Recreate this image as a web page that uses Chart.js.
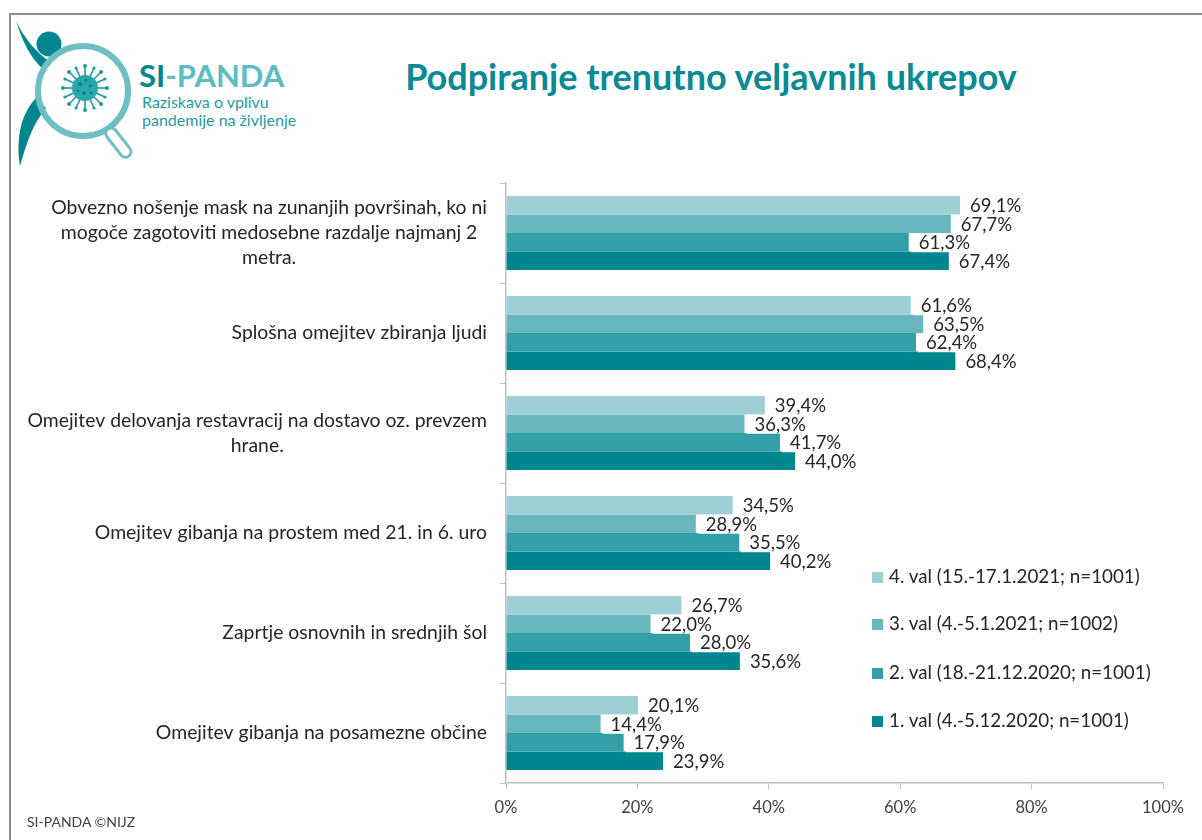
<!DOCTYPE html>
<html>
<head>
<meta charset="utf-8">
<script src="https://cdn.jsdelivr.net/npm/chart.js@4/dist/chart.umd.min.js"></script>
<style>
  body { margin: 0; background: #fff; font-family: Lato, sans-serif; }
  #wrap { position: relative; width: 1202px; height: 840px; overflow: hidden; }
  #frame { position: absolute; left: 9px; top: 13px; width: 1300px; height: 900px;
           border-left: 2px solid #8c8c8c; border-top: 2px solid #8c8c8c; }
  #myChart { position: absolute; left: 0; top: 0; }
  #title { position: absolute; left: 0; width: 1422px; top: 54px; text-align: center;
           font: bold 36px Lato, sans-serif; color: #0a8a94; }
  #logoText1 { position: absolute; left: 139px; top: 56px; font: bold 31px Lato, sans-serif; }
  #logoText2 { position: absolute; left: 142px; top: 93px; font: 16px Lato, sans-serif;
               color: #1f9ba2; line-height: 18px; }
  #footer { position: absolute; left: 27px; top: 813px; font: 14px Lato, sans-serif; color: #404040; }
  .leg { position: absolute; left: 872px; font: 18.8px Lato, sans-serif; color: #262626; white-space: nowrap; }
  .leg span { display: inline-block; width: 11px; height: 11px; margin-right: 6px; vertical-align: 0px; }
</style>
</head>
<body>
<div id="wrap">
  <div id="frame"></div>
  <svg width="300" height="180" style="position:absolute;left:0;top:0">
    <!-- arm -->
    <path d="M16 21 C 22 40, 30 58, 44 70 L 50 62 C 36 52, 24 38, 16 21 Z" fill="#00868f"/>
    <circle cx="49" cy="44" r="12.5" fill="#00868f"/>
    <!-- leg -->
    <path d="M36 98 C 20 115, 16 140, 20 166 C 26 145, 32 125, 46 108 Z" fill="#00868f"/>
    <!-- magnifier -->
    <circle cx="83" cy="91" r="45" fill="none" stroke="#6dbfc3" stroke-width="6"/>
    <rect x="113" y="126" width="11" height="34" rx="5.5" transform="rotate(-38 118 143)"
          fill="#fff" stroke="#6dbfc3" stroke-width="3"/>
    <!-- virus -->
    <g stroke="#1f9ba2" stroke-width="1.6">
      <line x1="85" y1="88" x2="85" y2="66"/><line x1="85" y1="88" x2="85" y2="110"/>
      <line x1="85" y1="88" x2="63" y2="88"/><line x1="85" y1="88" x2="107" y2="88"/>
      <line x1="85" y1="88" x2="69" y2="72"/><line x1="85" y1="88" x2="101" y2="104"/>
      <line x1="85" y1="88" x2="101" y2="72"/><line x1="85" y1="88" x2="69" y2="104"/>
      <line x1="85" y1="88" x2="76" y2="68"/><line x1="85" y1="88" x2="94" y2="108"/>
      <line x1="85" y1="88" x2="94" y2="68"/><line x1="85" y1="88" x2="76" y2="108"/>
      <line x1="85" y1="88" x2="65" y2="79"/><line x1="85" y1="88" x2="105" y2="97"/>
      <line x1="85" y1="88" x2="65" y2="97"/><line x1="85" y1="88" x2="105" y2="79"/>
    </g>
    <g fill="#1f9ba2">
      <circle cx="85" cy="66" r="2"/><circle cx="85" cy="110" r="2"/>
      <circle cx="63" cy="88" r="2"/><circle cx="107" cy="88" r="2"/>
      <circle cx="69" cy="72" r="2"/><circle cx="101" cy="104" r="2"/>
      <circle cx="101" cy="72" r="2"/><circle cx="69" cy="104" r="2"/>
      <circle cx="76" cy="68" r="1.6"/><circle cx="94" cy="108" r="1.6"/>
      <circle cx="94" cy="68" r="1.6"/><circle cx="76" cy="108" r="1.6"/>
      <circle cx="65" cy="79" r="1.6"/><circle cx="105" cy="97" r="1.6"/>
      <circle cx="65" cy="97" r="1.6"/><circle cx="105" cy="79" r="1.6"/>
    </g>
    <circle cx="85" cy="88" r="13" fill="#2aa6ac"/>
    <g fill="#0d7f88">
      <circle cx="80" cy="84" r="2"/><circle cx="90" cy="86" r="1.6"/><circle cx="84" cy="93" r="1.8"/>
      <circle cx="91" cy="93" r="1.3"/><circle cx="78" cy="91" r="1.3"/><circle cx="86" cy="80" r="1.3"/>
    </g>
  </svg>
  <div id="logoText1"><span style="color:#00868f">SI</span><span style="color:#5cbdc2">-PANDA</span></div>
  <div id="logoText2">Raziskava o vplivu<br>pandemije na življenje</div>
  <div id="title">Podpiranje trenutno veljavnih ukrepov</div>
  <canvas id="myChart" width="1202" height="840"></canvas>
  <div id="legend"></div>
  <div id="footer">SI-PANDA ©NIJZ</div>
</div>
<script>
const categories = [
  ["Obvezno nošenje mask na zunanjih površinah, ko ni", "mogoče zagotoviti medosebne razdalje najmanj 2", "metra."],
  ["Splošna omejitev zbiranja ljudi"],
  ["Omejitev delovanja restavracij na dostavo oz. prevzem", "hrane."],
  ["Omejitev gibanja na prostem med 21. in 6. uro"],
  ["Zaprtje osnovnih in srednjih šol"],
  ["Omejitev gibanja na posamezne občine"],
];
const seriesLabels = [
  "4. val (15.-17.1.2021; n=1001)",
  "3. val (4.-5.1.2021; n=1002)",
  "2. val (18.-21.12.2020; n=1001)",
  "1. val (4.-5.12.2020; n=1001)",
];
const wave4 = [69.1, 61.6, 39.4, 34.5, 26.7, 20.1];
const wave3 = [67.7, 63.5, 36.3, 28.9, 22.0, 14.4];
const wave2 = [61.3, 62.4, 41.7, 35.5, 28.0, 17.9];
const wave1 = [67.4, 68.4, 44.0, 40.2, 35.6, 23.9];
const xTicks = [0, 20, 40, 60, 80, 100];

const colors = ["#9dd0d5", "#68b7bf", "#339fa9", "#00868f"];
const seriesValues = [wave4, wave3, wave2, wave1];

// legend
const legendTops = [564, 611, 660, 708];
const legendDiv = document.getElementById("legend");
seriesLabels.forEach(function (lbl, i) {
  const d = document.createElement("div");
  d.className = "leg";
  d.style.top = legendTops[i] + "px";
  d.innerHTML = '<span style="background:' + colors[i] + '"></span>' + lbl;
  legendDiv.appendChild(d);
});

const fmt = (v) => v.toFixed(1).replace(".", ",") + "%";

const ctx = document.getElementById("myChart").getContext("2d");

const barChart = new Chart(ctx, {
  type: "bar",
  data: {
    labels: categories.map((c) => c.join(" ")),
    datasets: seriesValues.map((vals, i) => ({
      label: seriesLabels[i],
      data: vals,
      backgroundColor: colors[i],
      borderWidth: 0,
      categoryPercentage: 0.74,
      barPercentage: 1.0,
    })),
  },
  options: {
    indexAxis: "y",
    responsive: false,
    animation: false,
    layout: { padding: { top: 183, right: 39, bottom: 7, left: 0 } },
    scales: {
      x: {
        min: 0,
        max: 100,
        afterBuildTicks: function (scale) {
          scale.ticks = xTicks.map((v) => ({ value: v }));
        },
        afterFit: function (scale) {
          scale.height = 50;
        },
        ticks: {
          callback: (v) => v + "%",
          color: "#404040",
          font: { family: "Lato", size: 16.5 },
          padding: 9,
          maxRotation: 0,
        },
        grid: { drawOnChartArea: false, tickLength: 6, color: "#bfbfbf" },
        border: { color: "#bfbfbf", width: 1.5 },
      },
      y: {
        afterFit: function (scale) {
          scale.width = 506;
        },
        ticks: { display: false },
        grid: { offset: true, drawOnChartArea: false, tickLength: 6, color: "#bfbfbf" },
        border: { color: "#bfbfbf", width: 1.5 },
      },
    },
    plugins: {
      legend: { display: false },
      tooltip: { enabled: false },
    },
  },
  plugins: [
    {
      id: "catLabels",
      afterDraw: function (chart) {
        const c = chart.ctx;
        const yScale = chart.scales.y;
        c.save();
        c.font = "19.4px Lato";
        c.fillStyle = "#262626";
        c.textAlign = "center";
        c.textBaseline = "middle";
        const right = 487;
        const lineH = 25;
        categories.forEach(function (lines, i) {
          const yc = yScale.getPixelForValue(i);
          const w = Math.max(...lines.map((l) => c.measureText(l).width));
          const cx = right - w / 2;
          lines.forEach(function (l, j) {
            c.fillText(l, cx, yc + (j - (lines.length - 1) / 2) * lineH);
          });
        });
        c.restore();
      },
    },
    {
      id: "valueLabels",
      afterDatasetsDraw: function (chart) {
        const c = chart.ctx;
        c.save();
        c.font = "18.5px Lato";
        c.textBaseline = "middle";
        c.textAlign = "left";
        chart.data.datasets.forEach(function (ds, di) {
          const meta = chart.getDatasetMeta(di);
          meta.data.forEach(function (bar, i) {
            const txt = fmt(ds.data[i]);
            const w = c.measureText(txt).width;
            c.fillStyle = "#ffffff";
            c.fillRect(bar.x + 2, bar.y - 9, w + 14, 19);
            c.fillStyle = "#262626";
            c.fillText(txt, bar.x + 10, bar.y + 1);
          });
        });
        c.restore();
      },
    },
  ],
});
</script>
</body>
</html>
